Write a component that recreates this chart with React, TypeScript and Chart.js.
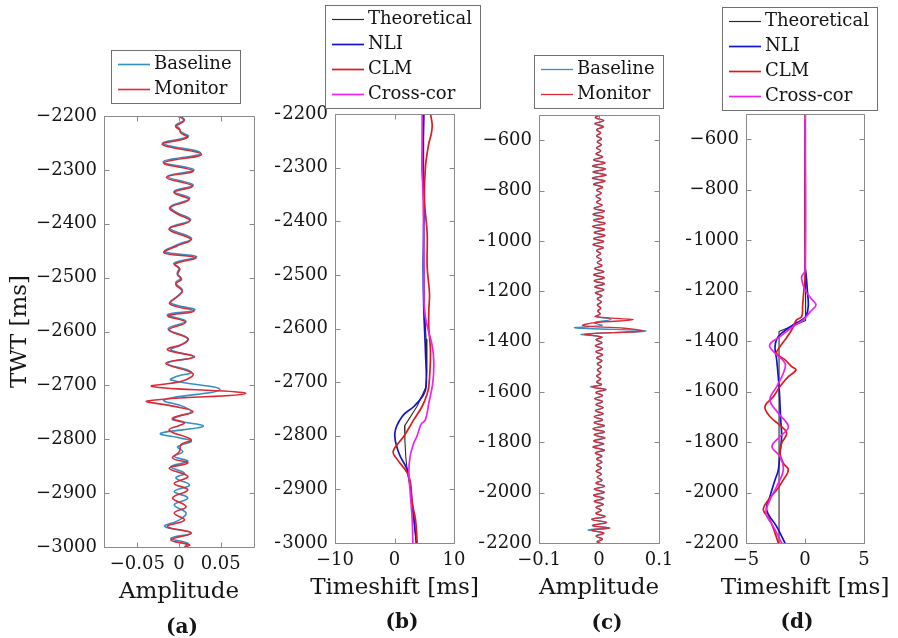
import React, { useEffect, useRef } from "react";
import { Chart, registerables } from "chart.js";

Chart.register(...registerables);

const PAGE_W = 898;
const PAGE_H = 638;
const SERIF = '"DejaVu Serif", "Liberation Serif", serif';
const INK = "#151515";
const AXIS = "#8a8a8a";

// ---------------- tick values ----------------
const twtTicksAB = [-2200, -2300, -2400, -2500, -2600, -2700, -2800, -2900, -3000];
const twtTicksCD = [-600, -800, -1000, -1200, -1400, -1600, -1800, -2000, -2200];
const ampTicksA = [-0.05, 0, 0.05];
const shiftTicksB = [-10, 0, 10];
const ampTicksC = [-0.1, 0, 0.1];
const shiftTicksD = [-5, 0, 5];

const panelLetters = ["(a)", "(b)", "(c)", "(d)"];
const legendAB = ["Baseline", "Monitor"];
const legendBD = ["Theoretical", "NLI", "CLM", "Cross-cor"];
const xTitles = ["Amplitude", "Timeshift [ms]", "Amplitude", "Timeshift [ms]"];
const yTitle = "TWT [ms]";

type Pair = [number, number]; // [TWT ms, value]

// ---------------- panel (a): traces ----------------
const aBaseline: Pair[] = [
  [-2200, -0.002], [-2207, 0.0065], [-2217, -0.004], [-2223, 0.0004], [-2229, 0.002], [-2238, 0.011], [-2251, -0.019], [-2269, 0.026], [-2285, -0.019], [-2300, 0.018],
  [-2312, -0.014], [-2328, 0.017], [-2340, -0.006], [-2353, 0.013], [-2368, -0.010], [-2378, -0.004], [-2393, 0.014], [-2408, -0.011], [-2427, 0.015], [-2439, -0.002],
  [-2452, -0.017], [-2461, 0.021], [-2473, -0.006], [-2482, 0.000], [-2492, -0.002], [-2501, 0.002], [-2510, -0.004], [-2523, 0.004], [-2532, 0.000], [-2547, -0.010],
  [-2560, 0.019], [-2569, -0.014], [-2581, 0.0085], [-2595, -0.013], [-2613, 0.0106], [-2625, 0.0024], [-2634, -0.0098], [-2647, 0.0167], [-2659, -0.0138], [-2675, 0.0146],
  [-2684, -0.004], [-2690, -0.0098], [-2708, 0.049], [-2727, -0.0179], [-2739, 0.0045], [-2749, 0.0146], [-2758, -0.0016], [-2764, -0.0077], [-2776, 0.029], [-2789, -0.022],
  [-2798, 0.0024], [-2804, 0.0146], [-2814, -0.0016], [-2823, 0.0045], [-2832, -0.0057], [-2841, 0.0106], [-2851, -0.0098], [-2863, 0.0065], [-2872, -0.0037], [-2885, 0.0126],
  [-2897, -0.0057], [-2909, 0.0106], [-2922, -0.0057], [-2937, 0.0085], [-2950, 0.000], [-2962, -0.0171], [-2974, 0.0146], [-2984, -0.0098], [-2993, 0.0106], [-3000, 0.0065],
];
const aMonitor: Pair[] = [
  [-2200, 0.001], [-2209, 0.006], [-2219, -0.004], [-2226, 0.001], [-2231, 0.002], [-2240, 0.010], [-2253, -0.020], [-2271, 0.027], [-2287, -0.018], [-2302, 0.017],
  [-2314, -0.015], [-2330, 0.016], [-2342, -0.006], [-2355, 0.012], [-2370, -0.011], [-2380, -0.004], [-2395, 0.013], [-2410, -0.012], [-2429, 0.014], [-2441, -0.002],
  [-2454, -0.018], [-2463, 0.020], [-2475, -0.005], [-2484, 0.001], [-2494, -0.002], [-2503, 0.003], [-2512, -0.004], [-2525, 0.004], [-2534, -0.001], [-2549, -0.011],
  [-2562, 0.018], [-2571, -0.013], [-2583, 0.008], [-2597, -0.012], [-2613, 0.0106], [-2622, 0.0065], [-2634, -0.0138], [-2647, 0.0187], [-2659, -0.0159], [-2678, 0.0167],
  [-2692, 0.004], [-2702, -0.032], [-2715, 0.080], [-2729, -0.038], [-2739, -0.0057], [-2749, 0.0167], [-2761, -0.0077], [-2770, 0.0065], [-2783, -0.0118], [-2801, 0.0146],
  [-2810, 0.0024], [-2823, 0.0004], [-2835, -0.0077], [-2844, 0.0106], [-2854, -0.0118], [-2869, 0.0106], [-2882, -0.0057], [-2894, 0.0106], [-2909, -0.0077], [-2925, 0.0085],
  [-2937, -0.0057], [-2950, 0.0065], [-2962, -0.0138], [-2974, 0.0146], [-2987, -0.0098], [-2996, 0.0126], [-3000, 0.008],
];

// ---------------- panel (b): timeshifts ----------------
const bTheoretical: Pair[] = [
  [-2200, 4.8], [-2400, 4.9], [-2550, 5.0], [-2620, 5.3], [-2680, 5.45], [-2710, 5.25], [-2745, 3.8], [-2782, 1.68],
  [-2810, 1.75], [-2840, 1.9], [-2870, 2.2], [-2900, 2.7], [-2930, 3.0], [-2960, 3.3], [-3000, 3.64],
];
const bNLI: Pair[] = [
  [-2200, 4.93], [-2250, 4.8], [-2298, 4.65], [-2360, 4.93], [-2420, 4.9], [-2485, 4.82], [-2566, 4.93], [-2645, 5.21], [-2708, 5.32],
  [-2725, 4.8], [-2745, 3.3], [-2764, 1.29], [-2795, 0.06], [-2832, 0.73], [-2863, 2.13], [-2888, 2.58], [-2925, 2.97], [-3000, 3.7],
];
const bCLM: Pair[] = [
  [-2200, 6.05], [-2220, 6.33], [-2236, 6.2], [-2255, 5.77], [-2298, 5.21], [-2360, 5.04], [-2423, 5.49], [-2485, 5.49], [-2535, 5.88], [-2566, 5.77],
  [-2600, 5.77], [-2645, 6.05], [-2708, 5.77], [-2725, 5.4], [-2745, 4.65], [-2770, 3.25], [-2801, 1.57], [-2829, -0.22], [-2844, 0.45], [-2869, 2.13],
  [-2888, 2.69], [-2925, 2.97], [-2956, 3.53], [-3000, 3.81],
];
const bCrossCor: Pair[] = [
  [-2200, 4.65], [-2298, 4.65], [-2360, 4.82], [-2485, 4.93], [-2566, 5.04], [-2600, 5.6], [-2630, 6.3], [-2660, 6.6], [-2700, 6.45], [-2739, 5.77],
  [-2770, 5.2], [-2778, 4.5], [-2786, 4.2], [-2800, 3.8], [-2815, 3.2], [-2840, 2.6], [-2870, 2.41], [-2900, 2.6], [-2956, 2.97], [-3000, 3.08],
];

// ---------------- panel (c): traces ----------------
const cBaseline: Pair[] = [
  [-500, 0.002], [-510, -0.006], [-522, 0.008], [-534, -0.007], [-546, 0.007], [-558, -0.004], [-570, 0.003], [-582, -0.004], [-594, 0.004], [-606, -0.003],
  [-618, 0.004], [-630, -0.004], [-642, 0.003], [-654, -0.005], [-666, 0.006], [-678, -0.009], [-690, 0.010], [-702, -0.011], [-714, 0.011], [-726, -0.010],
  [-738, 0.012], [-750, -0.011], [-762, 0.010], [-774, -0.009], [-786, 0.006], [-798, -0.004], [-810, 0.004], [-822, -0.005], [-834, 0.003], [-846, -0.004],
  [-858, 0.005], [-870, -0.008], [-882, 0.009], [-894, -0.010], [-906, 0.008], [-918, -0.009], [-930, 0.010], [-942, -0.011], [-954, 0.009], [-966, -0.008],
  [-978, 0.010], [-990, -0.009], [-1002, 0.008], [-1014, -0.010], [-1026, 0.007], [-1038, -0.004], [-1050, 0.003], [-1062, -0.004], [-1074, 0.004], [-1086, -0.003],
  [-1098, 0.005], [-1110, -0.007], [-1122, 0.008], [-1134, -0.009], [-1146, 0.009], [-1158, -0.008], [-1170, 0.009], [-1182, -0.007], [-1194, 0.008], [-1206, -0.006],
  [-1218, 0.005], [-1230, -0.003], [-1242, 0.004], [-1254, -0.003], [-1266, 0.003], [-1278, -0.002], [-1290, 0.002], [-1300, -0.005], [-1312, 0.020], [-1325, -0.008],
  [-1336, 0.005], [-1345, -0.040], [-1358, 0.078], [-1371, -0.029], [-1382, 0.004], [-1392, -0.005], [-1404, 0.005], [-1416, -0.006], [-1428, 0.006], [-1440, -0.005],
  [-1452, 0.006], [-1464, -0.004], [-1476, 0.005], [-1488, -0.003], [-1500, 0.004], [-1512, -0.003], [-1524, 0.003], [-1536, -0.004], [-1548, 0.003], [-1560, -0.004],
  [-1570, 0.004], [-1580, -0.014], [-1590, 0.012], [-1602, -0.005], [-1614, 0.006], [-1626, -0.007], [-1638, 0.006], [-1650, -0.005], [-1662, 0.007], [-1674, -0.006],
  [-1686, 0.007], [-1698, -0.008], [-1710, 0.006], [-1722, -0.008], [-1734, 0.009], [-1746, -0.010], [-1758, 0.009], [-1770, -0.008], [-1782, 0.010], [-1794, -0.009],
  [-1806, 0.008], [-1818, -0.010], [-1830, 0.009], [-1842, -0.006], [-1854, 0.005], [-1866, -0.004], [-1878, 0.005], [-1890, -0.004], [-1902, 0.004], [-1914, -0.005],
  [-1926, 0.004], [-1938, -0.003], [-1950, 0.005], [-1962, -0.005], [-1974, 0.009], [-1986, -0.008], [-1998, 0.009], [-2010, -0.009], [-2022, 0.008], [-2034, -0.008],
  [-2046, 0.007], [-2058, -0.005], [-2070, 0.004], [-2082, -0.005], [-2094, 0.010], [-2106, -0.012], [-2118, 0.013], [-2130, -0.011], [-2140, 0.016], [-2148, -0.018],
  [-2160, 0.008], [-2172, -0.005], [-2184, 0.006], [-2194, -0.003], [-2200, 0.002],
];
const cMonitor: Pair[] = [
  [-500, 0.001], [-511, -0.006], [-523, 0.008], [-535, -0.007], [-547, 0.007], [-559, -0.004], [-571, 0.003], [-583, -0.004], [-595, 0.004], [-607, -0.003],
  [-619, 0.004], [-631, -0.004], [-643, 0.003], [-655, -0.005], [-667, 0.006], [-679, -0.009], [-691, 0.010], [-703, -0.011], [-715, 0.011], [-727, -0.010],
  [-739, 0.012], [-751, -0.011], [-763, 0.010], [-775, -0.009], [-787, 0.006], [-799, -0.004], [-811, 0.004], [-823, -0.005], [-835, 0.003], [-847, -0.004],
  [-859, 0.005], [-871, -0.008], [-883, 0.009], [-895, -0.010], [-907, 0.008], [-919, -0.009], [-931, 0.010], [-943, -0.011], [-955, 0.009], [-967, -0.008],
  [-979, 0.010], [-991, -0.009], [-1003, 0.008], [-1015, -0.010], [-1027, 0.007], [-1039, -0.004], [-1051, 0.003], [-1063, -0.004], [-1075, 0.004], [-1087, -0.003],
  [-1099, 0.005], [-1111, -0.007], [-1123, 0.008], [-1135, -0.009], [-1147, 0.009], [-1159, -0.008], [-1171, 0.009], [-1183, -0.007], [-1195, 0.008], [-1207, -0.006],
  [-1219, 0.005], [-1231, -0.003], [-1243, 0.004], [-1255, -0.003], [-1267, 0.003], [-1279, -0.002], [-1290, 0.002], [-1301, -0.006], [-1313, 0.057], [-1325, -0.008],
  [-1337, -0.027], [-1347, 0.043], [-1358, 0.071], [-1371, -0.023], [-1382, 0.005], [-1393, -0.005], [-1405, 0.005], [-1417, -0.006], [-1429, 0.006], [-1441, -0.005],
  [-1453, 0.006], [-1465, -0.004], [-1477, 0.005], [-1489, -0.003], [-1501, 0.004], [-1513, -0.003], [-1525, 0.003], [-1537, -0.004], [-1549, 0.003], [-1561, -0.004],
  [-1571, 0.004], [-1581, -0.010], [-1591, 0.010], [-1603, -0.005], [-1615, 0.006], [-1627, -0.007], [-1639, 0.006], [-1651, -0.005], [-1663, 0.007], [-1675, -0.006],
  [-1687, 0.007], [-1699, -0.008], [-1711, 0.006], [-1723, -0.008], [-1735, 0.009], [-1747, -0.010], [-1759, 0.009], [-1771, -0.008], [-1783, 0.010], [-1795, -0.009],
  [-1807, 0.008], [-1819, -0.010], [-1831, 0.009], [-1843, -0.006], [-1855, 0.005], [-1867, -0.004], [-1879, 0.005], [-1891, -0.004], [-1903, 0.004], [-1915, -0.005],
  [-1927, 0.004], [-1939, -0.003], [-1951, 0.005], [-1963, -0.005], [-1975, 0.009], [-1987, -0.008], [-1999, 0.009], [-2011, -0.009], [-2023, 0.008], [-2035, -0.008],
  [-2047, 0.007], [-2059, -0.005], [-2071, 0.004], [-2083, -0.005], [-2095, 0.010], [-2107, -0.012], [-2119, 0.013], [-2131, -0.011], [-2141, 0.018], [-2149, -0.012],
  [-2161, 0.008], [-2173, -0.005], [-2185, 0.006], [-2195, -0.003], [-2200, 0.001],
];

// ---------------- panel (d): timeshifts ----------------
const dTheoretical: Pair[] = [
  [-500, 0], [-1105, 0], [-1112, 0.08], [-1318, 0.08], [-1362, -2.2], [-2200, -2.2],
];
const dNLI: Pair[] = [
  [-500, 0], [-1100, 0], [-1140, 0.1], [-1200, 0.2], [-1260, 0.28], [-1300, 0.1], [-1316, -0.28], [-1342, -1.2], [-1382, -2.26], [-1422, -2.54],
  [-1474, -2.4], [-1580, -2.2], [-1712, -2.06], [-1778, -1.98], [-1844, -2.12], [-1910, -2.26], [-1950, -2.54], [-2016, -2.97], [-2069, -3.25], [-2135, -2.4],
  [-2200, -1.7],
];
const dCLM: Pair[] = [
  [-500, 0], [-1150, 0], [-1200, -0.1], [-1260, -0.2], [-1303, -0.28], [-1316, -0.71], [-1342, -0.99], [-1356, -1.13], [-1395, -1.69], [-1422, -2.12],
  [-1448, -2.4], [-1474, -1.69], [-1501, -1.13], [-1514, -0.76], [-1541, -1.41], [-1580, -2.12], [-1620, -2.68], [-1659, -3.39], [-1699, -2.97], [-1739, -1.98],
  [-1765, -1.55], [-1805, -1.98], [-1844, -2.12], [-1884, -1.84], [-1910, -1.41], [-1950, -1.84], [-1990, -2.4], [-2029, -3.11], [-2069, -3.53], [-2108, -2.97],
  [-2161, -2.54], [-2200, -2.26],
];
const dCrossCor: Pair[] = [
  [-500, 0], [-1120, 0], [-1144, -0.28], [-1171, -0.2], [-1197, 0], [-1230, 0.5], [-1257, 0.93], [-1283, 0.45], [-1316, -0.14], [-1342, -0.99],
  [-1382, -2.12], [-1415, -3.0], [-1448, -2.54], [-1488, -1.69], [-1527, -1.84], [-1580, -2.4], [-1633, -2.97], [-1686, -2.26], [-1739, -1.41], [-1778, -2.12],
  [-1818, -2.8], [-1857, -2.12], [-1910, -1.84], [-1976, -2.4], [-2029, -2.97], [-2082, -3.31], [-2135, -2.68], [-2200, -1.98],
];

// ---------------- styling / layout ----------------
const C_BASE = "#3390c6";
const C_MON = "#dc2a36";
const C_THEO = "#2a2a2a";
const C_NLI = "#1414c8";
const C_CLM = "#dc1c1c";
const C_XCOR = "#ee22ee";

interface SeriesDef {
  label: string;
  points: Pair[];
  color: string;
  width: number;
  tension: number;
  order: number;
}
interface PanelDef {
  area: { left: number; top: number; right: number; bottom: number };
  yAxisWidth: number;
  xRange: [number, number];
  yRange: [number, number];
  xTicks: number[];
  yTicks: number[];
  xTitle: string;
  yTitle: string | null;
  legendAt: { left: number; top: number };
  series: SeriesDef[];
}

const panels: PanelDef[] = [
  {
    area: { left: 104, top: 116, right: 254, bottom: 547 },
    yAxisWidth: 98,
    xRange: [-0.09, 0.09],
    yRange: [-3000, -2200],
    xTicks: ampTicksA,
    yTicks: twtTicksAB,
    xTitle: xTitles[0],
    yTitle: yTitle,
    legendAt: { left: 111, top: 50 },
    series: [
      { label: legendAB[0], points: aBaseline, color: C_BASE, width: 1.6, tension: 0.4, order: 1 },
      { label: legendAB[1], points: aMonitor, color: C_MON, width: 1.6, tension: 0.4, order: 0 },
    ],
  },
  {
    area: { left: 335, top: 114, right: 454, bottom: 543 },
    yAxisWidth: 60,
    xRange: [-10, 10],
    yRange: [-3000, -2200],
    xTicks: shiftTicksB,
    yTicks: twtTicksAB,
    xTitle: xTitles[1],
    yTitle: null,
    legendAt: { left: 325, top: 5 },
    series: [
      { label: legendBD[0], points: bTheoretical, color: C_THEO, width: 1.1, tension: 0, order: 3 },
      { label: legendBD[1], points: bNLI, color: C_NLI, width: 1.7, tension: 0.4, order: 2 },
      { label: legendBD[2], points: bCLM, color: C_CLM, width: 1.7, tension: 0.4, order: 1 },
      { label: legendBD[3], points: bCrossCor, color: C_XCOR, width: 1.7, tension: 0.4, order: 0 },
    ],
  },
  {
    area: { left: 539, top: 115, right: 659, bottom: 543 },
    yAxisWidth: 60,
    xRange: [-0.1, 0.1],
    yRange: [-2200, -500],
    xTicks: ampTicksC,
    yTicks: twtTicksCD,
    xTitle: xTitles[2],
    yTitle: null,
    legendAt: { left: 534, top: 55 },
    series: [
      { label: legendAB[0], points: cBaseline, color: C_BASE, width: 1.3, tension: 0.4, order: 1 },
      { label: legendAB[1], points: cMonitor, color: C_MON, width: 1.3, tension: 0.4, order: 0 },
    ],
  },
  {
    area: { left: 746, top: 114, right: 864, bottom: 543 },
    yAxisWidth: 60,
    xRange: [-5, 5],
    yRange: [-2200, -500],
    xTicks: shiftTicksD,
    yTicks: twtTicksCD,
    xTitle: xTitles[3],
    yTitle: null,
    legendAt: { left: 722, top: 7 },
    series: [
      { label: legendBD[0], points: dTheoretical, color: C_THEO, width: 1.1, tension: 0, order: 3 },
      { label: legendBD[1], points: dNLI, color: C_NLI, width: 1.7, tension: 0.4, order: 2 },
      { label: legendBD[2], points: dCLM, color: C_CLM, width: 1.7, tension: 0.4, order: 1 },
      { label: legendBD[3], points: dCrossCor, color: C_XCOR, width: 1.7, tension: 0.4, order: 0 },
    ],
  },
];

const letterPos = [
  { cx: 182, top: 614 },
  { cx: 402, top: 609 },
  { cx: 607, top: 610 },
  { cx: 797, top: 609 },
];

const fmt = (v: number) => (v < 0 ? "\u2212" + String(-v) : String(v));

// Box + inward tick marks (MATLAB style)
const axesFrame = {
  id: "axesFrame",
  afterDatasetsDraw(chart: any) {
    const { ctx, chartArea: a, scales } = chart;
    const x = scales.x;
    const y = scales.y;
    const L = Math.round(a.left) + 0.5;
    const R = Math.round(a.right) + 0.5;
    const T = Math.round(a.top) + 0.5;
    const B = Math.round(a.bottom) + 0.5;
    ctx.save();
    ctx.strokeStyle = AXIS;
    ctx.lineWidth = 1;
    ctx.beginPath();
    ctx.rect(L, T, R - L, B - T);
    for (const t of x.ticks) {
      const px = Math.round(x.getPixelForValue(t.value)) + 0.5;
      ctx.moveTo(px, B);
      ctx.lineTo(px, B - 5);
      ctx.moveTo(px, T);
      ctx.lineTo(px, T + 5);
    }
    for (const t of y.ticks) {
      const py = Math.round(y.getPixelForValue(t.value)) + 0.5;
      ctx.moveTo(L, py);
      ctx.lineTo(L + 5, py);
      ctx.moveTo(R, py);
      ctx.lineTo(R - 5, py);
    }
    ctx.stroke();
    ctx.restore();
  },
};

// Axis titles drawn at natural width (no squeezing)
const axisTitles = {
  id: "axisTitles",
  afterDraw(chart: any, _args: any, opts: any) {
    const { ctx, chartArea: a } = chart;
    ctx.save();
    ctx.fillStyle = INK;
    ctx.font = `23px ${SERIF}`;
    ctx.textAlign = "center";
    ctx.textBaseline = "middle";
    if (opts.x) ctx.fillText(opts.x, (a.left + a.right) / 2, a.bottom + 45);
    if (opts.y) {
      ctx.translate(20, (a.top + a.bottom) / 2);
      ctx.rotate(-Math.PI / 2);
      ctx.fillText(opts.y, 0, 0);
    }
    ctx.restore();
  },
};

// Boxed legend above each axes
const boxLegend = {
  id: "boxLegend",
  afterDraw(chart: any, _args: any, opts: any) {
    const { ctx } = chart;
    const ds = chart.data.datasets;
    ctx.save();
    ctx.font = `18px ${SERIF}`;
    let tw = 0;
    for (const d of ds) tw = Math.max(tw, ctx.measureText(d.label).width);
    const w = Math.round(7 + 32 + 4 + tw + 8);
    const h = ds.length * 25 + 3;
    const x0 = opts.left + 0.5;
    const y0 = opts.top + 0.5;
    ctx.fillStyle = "#ffffff";
    ctx.fillRect(x0, y0, w, h);
    ctx.strokeStyle = "#707070";
    ctx.lineWidth = 1;
    ctx.strokeRect(x0, y0, w, h);
    ds.forEach((d: any, i: number) => {
      const cy = Math.round(opts.top + 14 + i * 25) + 0.5;
      ctx.strokeStyle = d.borderColor;
      ctx.lineWidth = Math.max(1.2, d.borderWidth);
      ctx.beginPath();
      ctx.moveTo(opts.left + 7, cy);
      ctx.lineTo(opts.left + 39, cy);
      ctx.stroke();
      ctx.fillStyle = INK;
      ctx.textBaseline = "middle";
      ctx.textAlign = "left";
      ctx.fillText(d.label, opts.left + 43, cy);
    });
    ctx.restore();
  },
};

function buildConfig(p: PanelDef): any {
  const XH = 59;
  return {
    type: "line",
    data: {
      datasets: p.series.map((s) => ({
        label: s.label,
        data: s.points.map(([t, v]) => ({ x: v, y: t })),
        borderColor: s.color,
        backgroundColor: s.color,
        borderWidth: s.width,
        pointRadius: 0,
        pointHoverRadius: 0,
        tension: s.tension,
        fill: false,
        order: s.order,
        borderJoinStyle: "round",
        borderCapStyle: "round",
      })),
    },
    options: {
      responsive: false,
      animation: false,
      devicePixelRatio: 1,
      events: [],
      layout: {
        padding: {
          left: p.area.left - p.yAxisWidth,
          top: p.area.top,
          right: PAGE_W - p.area.right,
          bottom: PAGE_H - p.area.bottom - XH,
        },
      },
      plugins: {
        legend: { display: false },
        tooltip: { enabled: false },
        boxLegend: p.legendAt,
        axisTitles: { x: p.xTitle, y: p.yTitle },
      },
      scales: {
        x: {
          type: "linear",
          position: "bottom",
          min: p.xRange[0],
          max: p.xRange[1],
          afterBuildTicks: (s: any) => {
            s.ticks = p.xTicks.map((value) => ({ value }));
          },
          afterFit: (s: any) => {
            s.height = XH;
          },
          grid: { display: false, drawTicks: false },
          border: { display: false },
          ticks: {
            autoSkip: false,
            maxRotation: 0,
            padding: 7,
            color: INK,
            font: { family: SERIF, size: 18 },
            callback: (v: any) => fmt(Number(v)),
          },
          title: { display: false },
        },
        y: {
          type: "linear",
          position: "left",
          min: p.yRange[0],
          max: p.yRange[1],
          afterBuildTicks: (s: any) => {
            s.ticks = p.yTicks.map((value) => ({ value }));
          },
          afterFit: (s: any) => {
            s.width = p.yAxisWidth;
          },
          grid: { display: false, drawTicks: false },
          border: { display: false },
          ticks: {
            autoSkip: false,
            padding: 7,
            color: INK,
            font: { family: SERIF, size: 18 },
            callback: (v: any) => fmt(Number(v)),
          },
          title: { display: false },
        },
      },
    },
    plugins: [axesFrame, axisTitles, boxLegend],
  };
}

function PanelChart({ def }: { def: PanelDef }) {
  const ref = useRef<HTMLCanvasElement>(null);
  useEffect(() => {
    if (!ref.current) return;
    const chart = new Chart(ref.current, buildConfig(def));
    return () => chart.destroy();
  }, [def]);
  return (
    <canvas
      ref={ref}
      width={PAGE_W}
      height={PAGE_H}
      style={{ position: "absolute", left: 0, top: 0, width: PAGE_W, height: PAGE_H }}
    />
  );
}

export default function App() {
  return (
    <div
      style={{
        position: "absolute",
        left: 0,
        top: 0,
        width: PAGE_W,
        height: PAGE_H,
        background: "#ffffff",
        overflow: "hidden",
      }}
    >
      {panels.map((p, i) => (
        <PanelChart key={i} def={p} />
      ))}
      {panelLetters.map((t, i) => (
        <div
          key={t}
          style={{
            position: "absolute",
            left: letterPos[i].cx - 30,
            top: letterPos[i].top,
            width: 60,
            textAlign: "center",
            font: `bold 20px ${SERIF}`,
            lineHeight: "24px",
            color: INK,
          }}
        >
          {t}
        </div>
      ))}
    </div>
  );
}
